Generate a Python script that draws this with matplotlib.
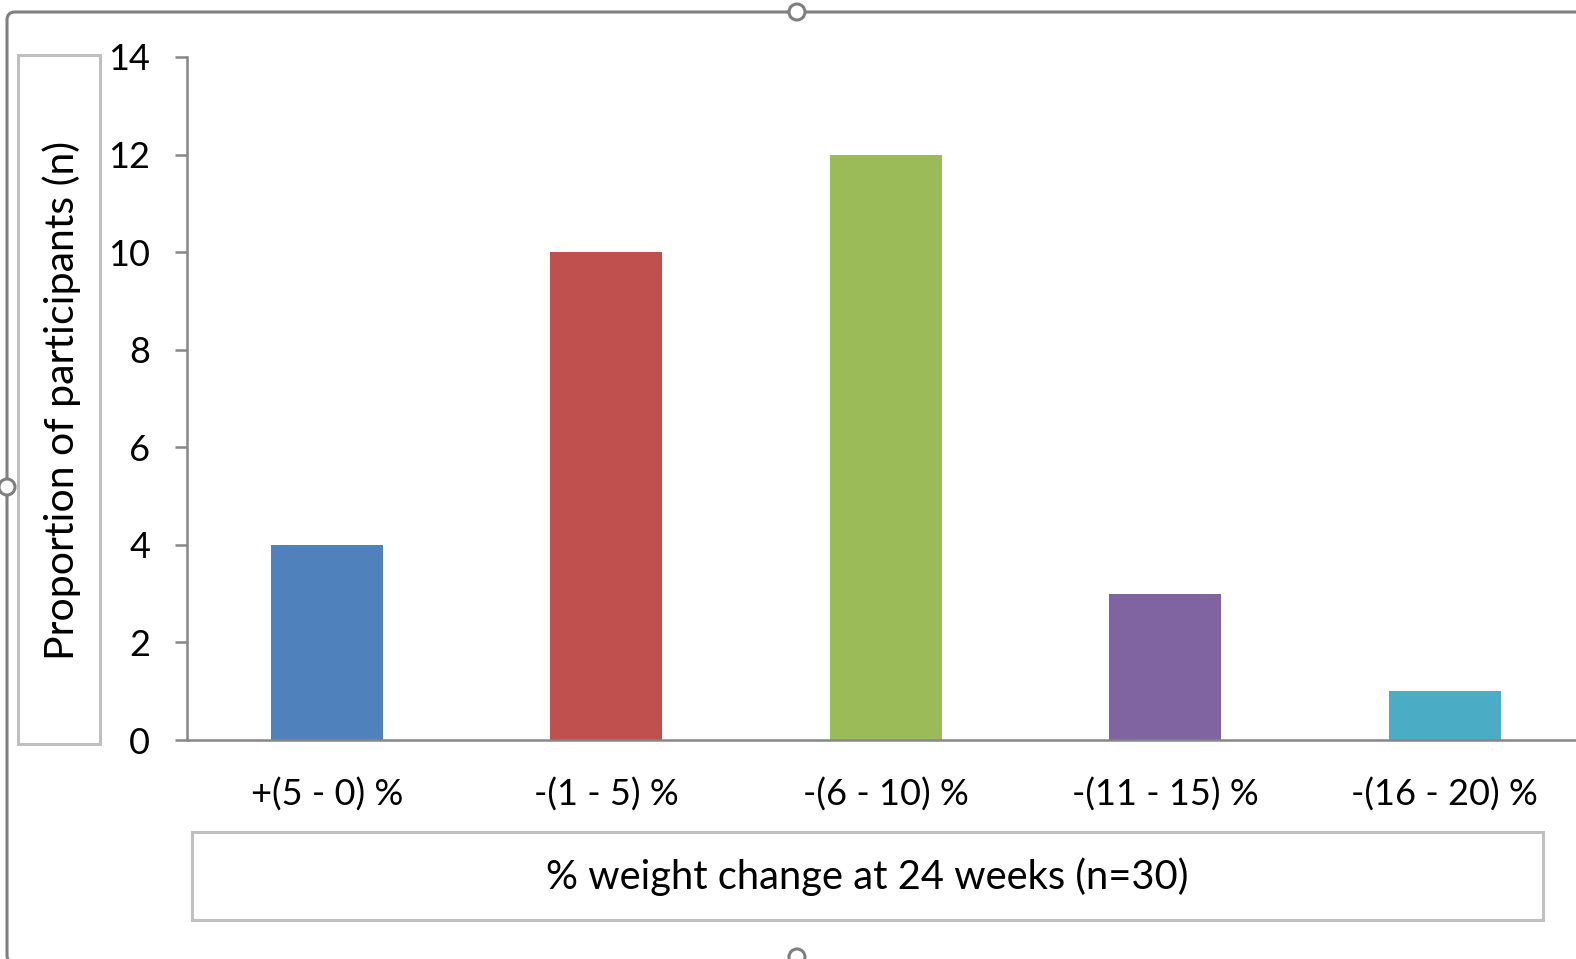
import matplotlib
matplotlib.use("Agg")
import matplotlib.pyplot as plt
from matplotlib.patches import Rectangle, FancyBboxPatch, Circle

categories = ["+(5 - 0) %", "-(1 - 5) %", "-(6 - 10) %", "-(11 - 15) %", "-(16 - 20) %"]
counts = [4, 10, 12, 3, 1]
bar_colors = ["#4F81BD", "#C0504D", "#9BBB59", "#8064A2", "#4BACC6"]
y_ticks = [0, 2, 4, 6, 8, 10, 12, 14]
x_title = "% weight change at 24 weeks (n=30)"
y_title = "Proportion of participants (n)"

W, H = 1576, 959
plt.rcParams["font.family"] = ["Lato", "DejaVu Sans"]

fig = plt.figure(figsize=(W / 100, H / 100), dpi=100)


def fx(px):
    return px / W


def fy(py):
    return 1 - py / H


# plot area: left axis at x=187, zero line at y=740, top (14) at y=57
ax = fig.add_axes([fx(187), fy(740), fx(5 * 279.5), fy(57) - fy(740)])
ax.bar(range(len(counts)), counts, width=0.4, color=bar_colors, zorder=2)
ax.set_xlim(-0.5, 4.5)
ax.set_ylim(0, 14)
ax.set_yticks(y_ticks)
ax.set_xticks(range(len(categories)))
ax.set_xticklabels(categories)

axis_grey = "#868686"
for side in ("top", "right"):
    ax.spines[side].set_visible(False)
for side in ("left", "bottom"):
    ax.spines[side].set_color(axis_grey)
    ax.spines[side].set_linewidth(1.8)
ax.tick_params(axis="y", length=8.5, width=1.8, color=axis_grey, pad=18,
               labelsize=26, labelcolor="#000000")
ax.tick_params(axis="x", length=0, pad=27, labelsize=26, labelcolor="#000000")

# axis titles with their boxes
box_grey = "#BFBFBF"
fig.patches.append(Rectangle((fx(18), fy(744)), fx(100 - 18), fy(55) - fy(744),
                             transform=fig.transFigure, fill=False,
                             edgecolor=box_grey, linewidth=2.2))
fig.text(fx(62), fy(400), y_title, rotation=90, ha="center", va="center",
         fontsize=29.5, color="#000000")
fig.patches.append(Rectangle((fx(192), fy(920)), fx(1543 - 192), fy(832) - fy(920),
                             transform=fig.transFigure, fill=False,
                             edgecolor=box_grey, linewidth=2.2))
fig.text(fx(867), fy(877), x_title, ha="center", va="center",
         fontsize=28.7, color="#000000")

# outer chart frame with selection handles
frame_grey = "#7F7F7F"
inch = fig.dpi_scale_trans
fig.patches.append(FancyBboxPatch((7 / 100, (H - 963) / 100), (1600 - 7) / 100, (963 - 12) / 100,
                                  boxstyle="round,pad=0,rounding_size=0.08",
                                  transform=inch, fill=False,
                                  edgecolor=frame_grey, linewidth=2.2))
for hx, hy in [(797, 12), (7, 487), (797, 957)]:
    fig.patches.append(Circle((hx / 100, (H - hy) / 100), 0.08, transform=inch,
                              facecolor="white", edgecolor=frame_grey, linewidth=2.2))

fig.savefig("out.png", dpi=100)
